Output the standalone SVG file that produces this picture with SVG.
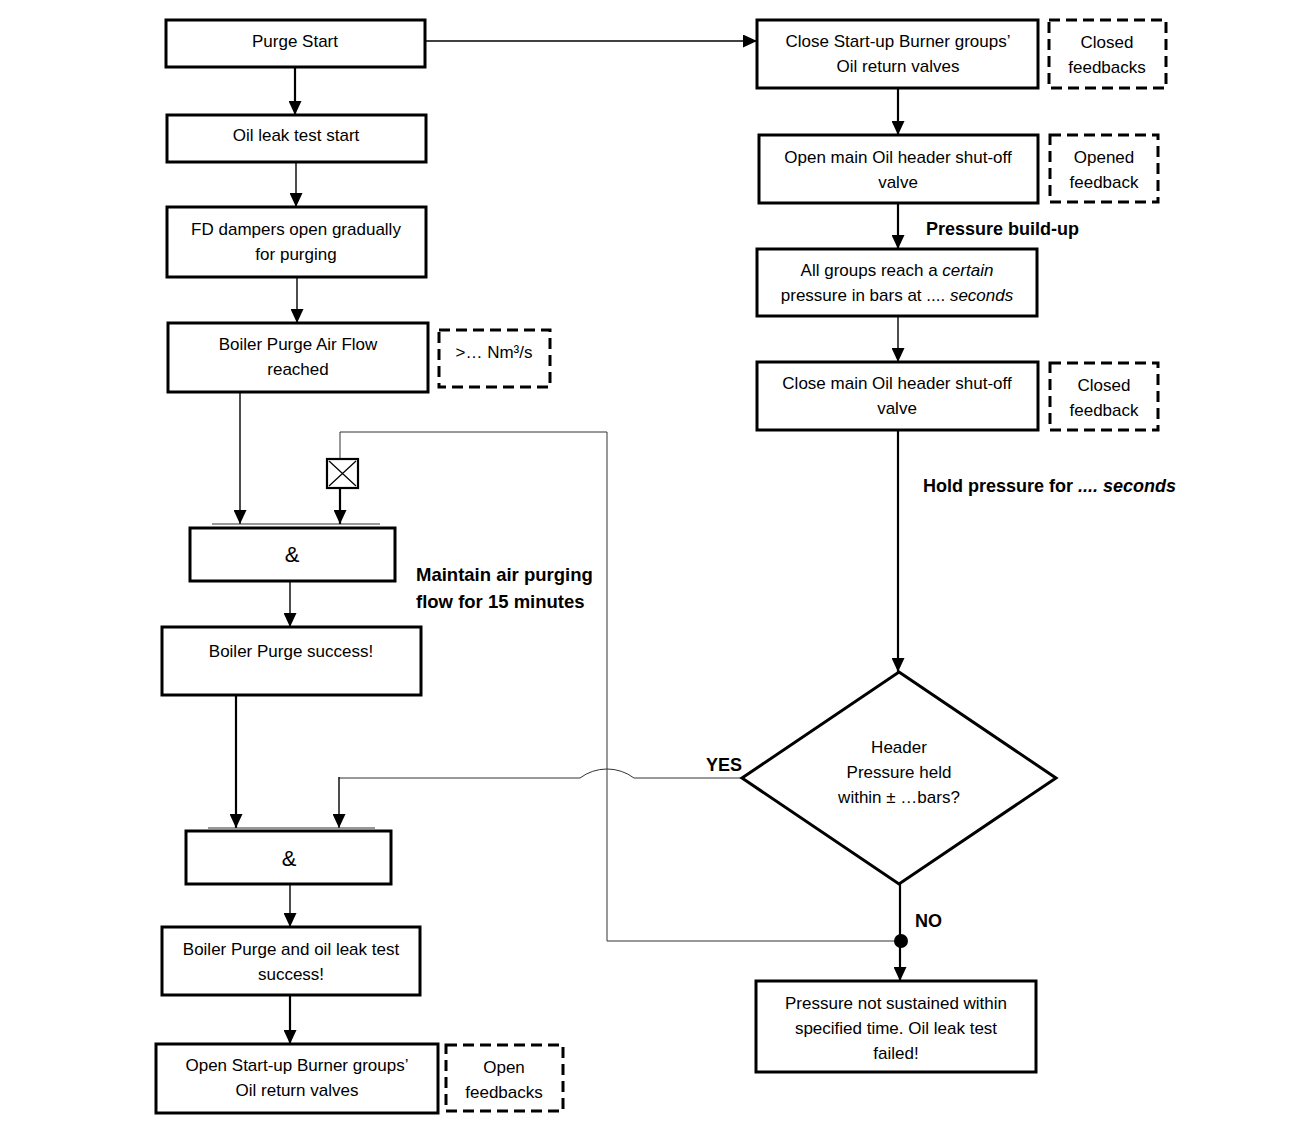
<svg xmlns="http://www.w3.org/2000/svg" width="1303" height="1126" viewBox="0 0 1303 1126">
<style>
  .box { fill: #fff; stroke: #000; stroke-width: 3; }
  .dash { fill: #fff; stroke: #000; stroke-width: 3; stroke-dasharray: 11 6; }
  .t { font-family: "Liberation Sans", Arial, sans-serif; font-size: 17px; fill: #000; text-anchor: middle; }
  .amp { font-family: "Liberation Sans", Arial, sans-serif; font-size: 22px; fill: #000; text-anchor: middle; }
  .b { font-family: "Liberation Sans", Arial, sans-serif; font-size: 18px; font-weight: bold; fill: #000; }
  .thick { fill: none; stroke: #000; stroke-width: 2.2; }
  .thin { fill: none; stroke: #000; stroke-width: 1.4; }
  .hair { fill: none; stroke: #333; stroke-width: 1; }
</style>
<defs>
  <marker id="arr" markerUnits="userSpaceOnUse" markerWidth="14" markerHeight="13" viewBox="0 0 14 13" refX="14" refY="6.5" orient="auto">
    <path d="M0,0 L14,6.5 L0,13 z" fill="#000"/>
  </marker>
</defs>
<rect width="1303" height="1126" fill="#fff"/>

<g id="connectors">
  <line class="thick" x1="295" y1="67" x2="295" y2="115" marker-end="url(#arr)"/>
  <line class="thin" x1="296" y1="162" x2="296" y2="207" marker-end="url(#arr)"/>
  <line class="thin" x1="297" y1="277" x2="297" y2="323" marker-end="url(#arr)"/>
  <line class="thin" x1="425" y1="41" x2="757" y2="41" marker-end="url(#arr)"/>
  <line class="thin" x1="240" y1="392" x2="240" y2="524" marker-end="url(#arr)"/>
  <line class="hair" x1="212" y1="524" x2="380" y2="524"/>
  <polyline class="hair" points="340,459 340,432 607,432 607,941 901,941"/>
  <line class="thick" x1="340" y1="488" x2="340" y2="524" marker-end="url(#arr)"/>
  <line class="thin" x1="290" y1="581" x2="290" y2="627" marker-end="url(#arr)"/>
  <line class="thick" x1="236" y1="695" x2="236" y2="828" marker-end="url(#arr)"/>
  <path class="hair" d="M742,778 L634,778 A45,45 0 0 0 580,778 L339,778"/>
  <line class="thin" x1="339" y1="777" x2="339" y2="828" marker-end="url(#arr)"/>
  <line class="hair" x1="208" y1="828" x2="375" y2="828"/>
  <line class="thin" x1="290" y1="884" x2="290" y2="927" marker-end="url(#arr)"/>
  <line class="thick" x1="290" y1="995" x2="290" y2="1044" marker-end="url(#arr)"/>
  <line class="thick" x1="898" y1="88" x2="898" y2="135" marker-end="url(#arr)"/>
  <line class="thick" x1="898" y1="203" x2="898" y2="249" marker-end="url(#arr)"/>
  <line class="thin" x1="898" y1="316" x2="898" y2="362" marker-end="url(#arr)"/>
  <line class="thick" x1="898" y1="430" x2="898" y2="672" marker-end="url(#arr)"/>
  <line class="thick" x1="900" y1="884" x2="900" y2="981" marker-end="url(#arr)"/>
  <circle cx="901" cy="941" r="7" fill="#000"/>
  <text class="b" x="416" y="581" style="font-size:18.5px">Maintain air purging</text>
  <text class="b" x="416" y="608" style="font-size:18.5px">flow for 15 minutes</text>
  <text class="b" x="926" y="235">Pressure build-up</text>
  <text class="b" x="923" y="492">Hold pressure for <tspan font-style="italic">.... seconds</tspan></text>
  <text class="b" x="706" y="771">YES</text>
  <text class="b" x="915" y="927">NO</text>
</g>

<g id="purge-start">
  <rect class="box" x="166" y="20" width="259" height="47"/>
  <text class="t" x="295" y="47">Purge Start</text>
</g>
<g id="oil-leak-start">
  <rect class="box" x="167" y="115" width="259" height="47"/>
  <text class="t" x="296" y="141">Oil leak test start</text>
</g>
<g id="fd-dampers">
  <rect class="box" x="167" y="207" width="259" height="70"/>
  <text class="t" x="296" y="235">FD dampers open gradually</text>
  <text class="t" x="296" y="260">for purging</text>
</g>
<g id="air-flow">
  <rect class="box" x="168" y="323" width="260" height="69"/>
  <text class="t" x="298" y="350">Boiler Purge Air Flow</text>
  <text class="t" x="298" y="375">reached</text>
</g>
<g id="air-flow-value">
  <rect class="dash" x="439" y="330" width="111" height="57"/>
  <text class="t" x="494" y="358">&gt;… Nm³/s</text>
</g>
<g id="inhibit">
  <rect x="327" y="459" width="31" height="29" fill="#fff" stroke="#000" stroke-width="2.2"/>
  <path d="M329,461 L356,486 M356,461 L329,486" stroke="#000" stroke-width="1.2"/>
</g>
<g id="and-1">
  <rect class="box" x="190" y="528" width="205" height="53"/>
  <text class="amp" x="292" y="562">&amp;</text>
</g>
<g id="purge-success">
  <rect class="box" x="162" y="627" width="259" height="68"/>
  <text class="t" x="291" y="657">Boiler Purge success!</text>
</g>
<g id="and-2">
  <rect class="box" x="186" y="831" width="205" height="53"/>
  <text class="amp" x="289" y="866">&amp;</text>
</g>
<g id="all-success">
  <rect class="box" x="162" y="927" width="258" height="68"/>
  <text class="t" x="291" y="955">Boiler Purge and oil leak test</text>
  <text class="t" x="291" y="980">success!</text>
</g>
<g id="open-return">
  <rect class="box" x="156" y="1044" width="282" height="69"/>
  <text class="t" x="297" y="1071">Open Start-up Burner groups’</text>
  <text class="t" x="297" y="1096">Oil return valves</text>
</g>
<g id="open-feedbacks">
  <rect class="dash" x="446" y="1045" width="117" height="66"/>
  <text class="t" x="504" y="1073">Open</text>
  <text class="t" x="504" y="1098">feedbacks</text>
</g>
<g id="close-return">
  <rect class="box" x="757" y="20" width="281" height="68"/>
  <text class="t" x="898" y="47">Close Start-up Burner groups’</text>
  <text class="t" x="898" y="72">Oil return valves</text>
</g>
<g id="closed-feedbacks">
  <rect class="dash" x="1049" y="20" width="117" height="68"/>
  <text class="t" x="1107" y="48">Closed</text>
  <text class="t" x="1107" y="73">feedbacks</text>
</g>
<g id="open-header">
  <rect class="box" x="759" y="135" width="279" height="68"/>
  <text class="t" x="898" y="163">Open main Oil header shut-off</text>
  <text class="t" x="898" y="188">valve</text>
</g>
<g id="opened-feedback">
  <rect class="dash" x="1050" y="135" width="108" height="67"/>
  <text class="t" x="1104" y="163">Opened</text>
  <text class="t" x="1104" y="188">feedback</text>
</g>
<g id="all-groups">
  <rect class="box" x="757" y="249" width="280" height="67"/>
  <text class="t" x="897" y="276">All groups reach a <tspan font-style="italic">certain</tspan></text>
  <text class="t" x="897" y="301">pressure in bars at .... <tspan font-style="italic">seconds</tspan></text>
</g>
<g id="close-header">
  <rect class="box" x="757" y="362" width="281" height="68"/>
  <text class="t" x="897" y="389">Close main Oil header shut-off</text>
  <text class="t" x="897" y="414">valve</text>
</g>
<g id="closed-feedback">
  <rect class="dash" x="1050" y="363" width="108" height="67"/>
  <text class="t" x="1104" y="391">Closed</text>
  <text class="t" x="1104" y="416">feedback</text>
</g>
<g id="decision">
  <polygon points="899,672 1056,778 899,884 742,778" fill="#fff" stroke="#000" stroke-width="3"/>
  <text class="t" x="899" y="753">Header</text>
  <text class="t" x="899" y="778">Pressure held</text>
  <text class="t" x="899" y="803">within ± …bars?</text>
</g>
<g id="failed">
  <rect class="box" x="756" y="981" width="280" height="91"/>
  <text class="t" x="896" y="1009">Pressure not sustained within</text>
  <text class="t" x="896" y="1034">specified time. Oil leak test</text>
  <text class="t" x="896" y="1059">failed!</text>
</g>
</svg>
